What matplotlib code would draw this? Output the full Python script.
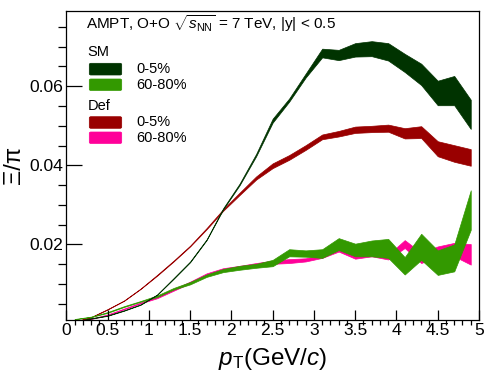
import matplotlib
matplotlib.use('Agg')
import matplotlib.pyplot as plt
from matplotlib.patches import FancyBboxPatch
import numpy as np

plt.rcParams['font.family'] = ['Liberation Sans', 'DejaVu Sans']
plt.rcParams['mathtext.fontset'] = 'custom'
plt.rcParams['mathtext.rm'] = 'Liberation Sans'
plt.rcParams['mathtext.it'] = 'Liberation Sans:italic'

# pT bin centres [GeV/c]
pt = [0.1, 0.3, 0.5, 0.7, 0.9, 1.1, 1.3, 1.5, 1.7, 1.9, 2.1, 2.3, 2.5,
      2.7, 2.9, 3.1, 3.3, 3.5, 3.7, 3.9, 4.1, 4.3, 4.5, 4.7, 4.9]

# Xi/pi ratio, SM (spherical) O+O, 0-5%
sm_central = [0.0004, 0.0013, 0.0020, 0.0033, 0.0048, 0.0073, 0.0114, 0.0156, 0.0212,
              0.0290, 0.0352, 0.0426, 0.0513, 0.0565, 0.0627, 0.0684, 0.0679, 0.0692,
              0.0695, 0.0687, 0.0659, 0.0630, 0.0583, 0.0589, 0.0529]
sm_central_err = [0.00005, 0.00005, 0.00005, 0.00005, 0.00005, 0.00005, 0.0001, 0.0001, 0.0001,
                  0.00015, 0.0002, 0.0003, 0.0005, 0.0004, 0.0005, 0.0011, 0.0013, 0.0017,
                  0.0019, 0.0022, 0.0023, 0.0027, 0.0031, 0.0037, 0.0037]

# SM, 60-80%
sm_periph = [0.0011, 0.0017, 0.0028, 0.0043, 0.0056, 0.0069, 0.0088, 0.0102, 0.0121,
             0.0134, 0.0141, 0.0146, 0.0153, 0.0179, 0.0177, 0.0177, 0.0201, 0.0186,
             0.0190, 0.0190, 0.0146, 0.0194, 0.0154, 0.0166, 0.0287]
sm_periph_err = [0.00005, 0.00005, 0.0001, 0.0001, 0.0001, 0.0002, 0.0002, 0.0003, 0.0003,
                 0.0004, 0.0005, 0.0005, 0.0008, 0.0009, 0.0008, 0.0011, 0.0015, 0.0016,
                 0.0020, 0.0024, 0.0022, 0.0033, 0.0031, 0.0034, 0.0050]

# Def (deformed) O+O, 0-5%
def_central = [0.0005, 0.0016, 0.0036, 0.0058, 0.0088, 0.0122, 0.0158, 0.0196, 0.0240,
               0.0287, 0.0328, 0.0368, 0.0399, 0.0420, 0.0445, 0.0472, 0.0480, 0.0490,
               0.0492, 0.0494, 0.0481, 0.0484, 0.0442, 0.0430, 0.0420]
def_central_err = [0.00005, 0.00005, 0.00005, 0.00005, 0.00005, 0.0001, 0.0001, 0.0001, 0.00015,
                   0.0002, 0.0003, 0.0004, 0.0006, 0.0006, 0.0006, 0.0006, 0.0007, 0.0008,
                   0.0008, 0.0009, 0.0013, 0.0015, 0.0019, 0.0021, 0.0021]

# Def, 60-80%
def_periph = [0.0006, 0.0012, 0.0022, 0.0037, 0.0052, 0.0066, 0.0085, 0.0104, 0.0124,
              0.0137, 0.0143, 0.0149, 0.0155, 0.0158, 0.0161, 0.0170, 0.0187, 0.0172,
              0.0178, 0.0168, 0.0201, 0.0166, 0.0182, 0.0187, 0.0175]
def_periph_err = [0.00005, 0.00005, 0.0001, 0.0001, 0.0001, 0.0002, 0.0002, 0.0002, 0.0003,
                  0.0003, 0.0003, 0.0004, 0.0004, 0.0005, 0.0004, 0.0004, 0.0005, 0.0008,
                  0.0008, 0.0006, 0.0010, 0.0013, 0.0013, 0.0017, 0.0026]

c_sm_central = '#003300'
c_sm_periph = '#339900'
c_def_central = '#990000'
c_def_periph = '#ff0099'

fig = plt.figure(figsize=(4.88, 3.84), dpi=100)
ax = fig.add_axes([66.3 / 488, 1 - 320 / 384, 412.7 / 488, 309.3 / 384])

x = np.array(pt)


def band(y, err, color):
    y = np.array(y)
    err = np.array(err)
    ax.fill_between(x, y - err, y + err, facecolor=color, edgecolor=color, linewidth=0.5)


band(def_periph, def_periph_err, c_def_periph)
band(def_central, def_central_err, c_def_central)
band(sm_periph, sm_periph_err, c_sm_periph)
band(sm_central, sm_central_err, c_sm_central)

ax.set_xlim(0, 5)
ax.set_ylim(0.0009, 0.0791)
ax.set_xticks([0, 0.5, 1, 1.5, 2, 2.5, 3, 3.5, 4, 4.5, 5])
ax.set_xticklabels(['0', '0.5', '1', '1.5', '2', '2.5', '3', '3.5', '4', '4.5', '5'])
ax.set_xticks(np.arange(0, 5.01, 0.1), minor=True)
ax.set_yticks([0.02, 0.04, 0.06])
ax.set_yticklabels(['0.02', '0.04', '0.06'])
ax.set_yticks([0.005, 0.01, 0.015, 0.025, 0.03, 0.035, 0.045, 0.05, 0.055, 0.065, 0.07, 0.075],
              minor=True)
ax.tick_params(direction='in', labelsize=12.6, pad=2, top=False, right=False)
ax.tick_params(axis='x', which='major', length=7.2, width=0.9)
ax.tick_params(axis='x', which='minor', length=3.6, width=0.9)
ax.tick_params(axis='y', which='major', length=11.5, width=0.9)
ax.tick_params(axis='y', which='minor', length=5.8, width=0.9)
for s in ax.spines.values():
    s.set_linewidth(0.9)

ax.set_xlabel(r'$p_{\rm T}$(GeV/$c$)', fontsize=17.5)
ax.xaxis.set_label_coords(0.5, -0.085)
ax.set_ylabel('Ξ/π', fontsize=17)
ax.yaxis.set_label_coords(-0.100, 0.5)


def axx(px):
    return (px - 66.3) / 412.7


def axy(py):
    return (320 - py) / 309.3


ax.text(axx(86), axy(24), r'AMPT, O+O $\sqrt{s_{\rm NN}}$ = 7 TeV, |y| < 0.5',
        transform=ax.transAxes, fontsize=11, va='center', ha='left')

legend_rows = [
    ('SM', 51.5, [('0-5%', c_sm_central, 63.3, 75), ('60-80%', c_sm_periph, 79, 90.5)]),
    ('Def', 106, [('0-5%', c_def_central, 116.7, 128.3), ('60-80%', c_def_periph, 132, 143.5)]),
]
for title, ty, entries in legend_rows:
    ax.text(axx(87.3), axy(ty), title, transform=ax.transAxes, fontsize=10.5,
            va='center', ha='left')
    for label, color, y0, y1 in entries:
        box = FancyBboxPatch((axx(89.3), axy(y1)), axx(121.7) - axx(89.3), axy(y0) - axy(y1),
                             boxstyle='round,pad=0,rounding_size=0.004',
                             transform=ax.transAxes, facecolor=color, edgecolor=color,
                             linewidth=0.5)
        ax.add_patch(box)
        ax.text(axx(136), axy((y0 + y1) / 2), label, transform=ax.transAxes,
                fontsize=10.5, va='center', ha='left')

fig.savefig('out.png', dpi=100)
